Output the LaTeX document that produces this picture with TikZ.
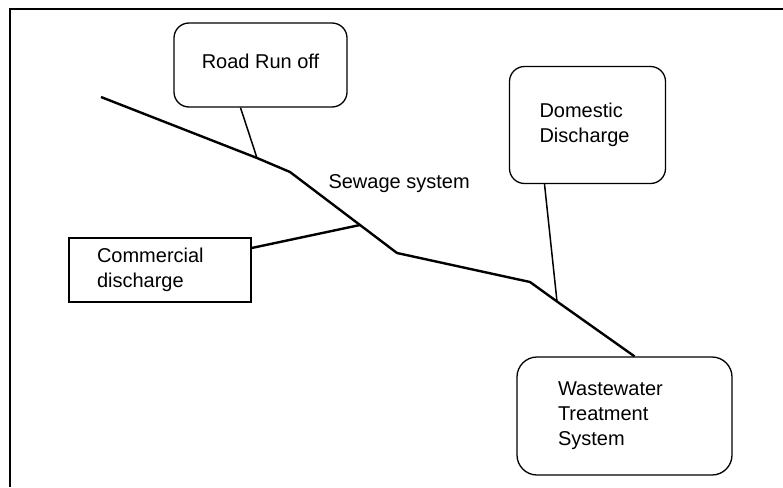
\documentclass[tikz,border=0pt]{standalone}
\usepackage{fontspec}
\setmainfont{Liberation Sans}
\begin{document}
\begin{tikzpicture}[x=1pt,y=-1pt,
		box/.style={draw,line width=1.3pt,rounded corners=15pt,align=left,font=\fontsize{20}{25}\selectfont},
		pipe/.style={line width=2.4pt,line join=round},
		feed/.style={line width=1.5pt}]
	\useasboundingbox (0,0) rectangle (783,487);
	%\draw (0,0) rectangle (783,487);
	\draw[line width=1.8pt] (783,9) -- (10,9) -- (10,487);
	
	\node[box,minimum width=173pt,minimum height=84pt,text depth=8pt] (road) at (260.5,65) {Road Run off};
	\node[box,minimum width=156pt,minimum height=117pt,text width=96pt,inner xsep=30pt] (domestic) at (587.5,125) {Domestic\\Discharge};
	\node[box,sharp corners,minimum height=64pt,text width=126pt,inner xsep=28pt] (commercial) at (160,270) {Commercial\\discharge};
	\node[box,rounded corners=20pt,minimum width=215pt,minimum height=118pt,text width=133pt,inner xsep=41pt] (wwts) at (624.5,416) {Wastewater\\Treatment\\System};
	
	\coordinate (s0) at (101,97);
	\coordinate (j1) at (257,158);
	\coordinate (s1) at (290,172);
	\coordinate (j2) at (360,225);
	\coordinate (s2) at (397,253);
	\coordinate (s3) at (530,282);
	\coordinate (j3) at (557,301.5);
	
	\draw[pipe] (s0) -- (j1) -- (s1) -- (j2) -- (s2) -- (s3) -- (j3) -- ([xshift=10pt]wwts.north);
	\node[anchor=base west,font=\fontsize{20}{25}\selectfont] (sewage) at (325,188) {Sewage system};
	
	\draw[feed] ([xshift=-20pt]road.south) -- (j1);
	\draw[pipe] ([yshift=22pt]commercial.east) -- (j2);
	\draw[feed] ([xshift=-43pt]domestic.south) -- (j3);
\end{tikzpicture}
\end{document}
